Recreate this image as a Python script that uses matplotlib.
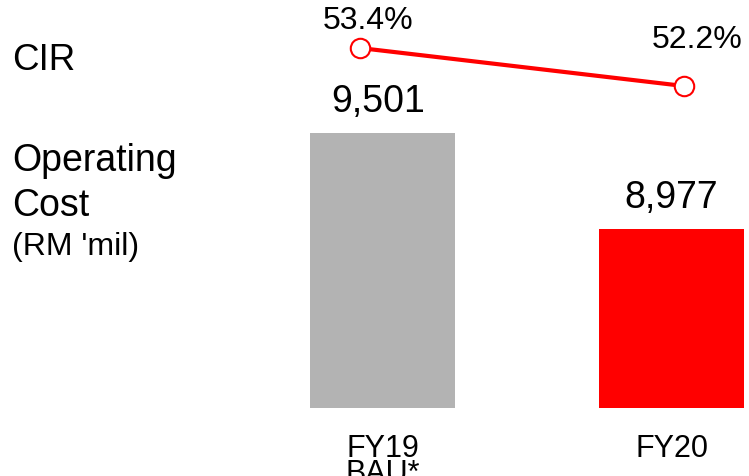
import matplotlib.pyplot as plt

plt.rcParams['font.family'] = ['Liberation Sans', 'DejaVu Sans']

categories = ['FY19\nBAU*', 'FY20']
op_cost = [9501, 8977]
cost_labels = ['9,501', '8,977']
cir = [53.4, 52.2]
cir_labels = ['53.4%', '52.2%']
bar_colors = ['#b3b3b3', '#ff0000']

fig = plt.figure(figsize=(7.49, 4.76), dpi=100)

# bars
ax = fig.add_axes([300 / 749, 68 / 476, 449 / 749, 340 / 476])
ax.bar([0, 1], op_cost, width=0.502, color=bar_colors)
ax.set_xlim(-0.2855, 1.268)
ax.set_ylim(8000, 9856)
ax.set_xticks([0, 1])
ax.set_xticklabels(categories, fontsize=22, linespacing=0.75)
ax.tick_params(axis='x', length=0, pad=19)
ax.set_yticks([])
for s in ax.spines.values():
    s.set_visible(False)
label_dx = [-3, 0]
for i, (v, lab) in enumerate(zip(op_cost, cost_labels)):
    ax.annotate(lab, (i, v), xytext=(label_dx[i], 22), textcoords='offset points',
                ha='center', va='center', fontsize=27)

# CIR line
ax2 = fig.add_axes([300 / 749, 0, 449 / 749, 1])
ax2.patch.set_visible(False)
ax2.plot([0, 1], cir, color='red', lw=3, marker='o', markersize=14,
         markerfacecolor='white', markeredgecolor='red', markeredgewidth=1.5)
ax2.set_xlim(-0.185, 1.2006)
ax2.set_ylim(39.885, 54.916)
ax2.axis('off')
offsets = [(6, 19.5), (9.5, 33)]
for i, (v, lab) in enumerate(zip(cir, cir_labels)):
    ax2.annotate(lab, (i, v), xytext=offsets[i], textcoords='offset points',
                 ha='center', va='center', fontsize=23)

# left labels
fig.text(12 / 749, 1 - 61 / 476, 'CIR', fontsize=26.5, va='center')
fig.text(12 / 749, 1 - 161 / 476, 'Operating', fontsize=27, va='center')
fig.text(12 / 749, 1 - 206 / 476, 'Cost', fontsize=27, va='center')
fig.text(12 / 749, 1 - 247 / 476, "(RM 'mil)", fontsize=23, va='center')

fig.savefig('out.png', dpi=100)
